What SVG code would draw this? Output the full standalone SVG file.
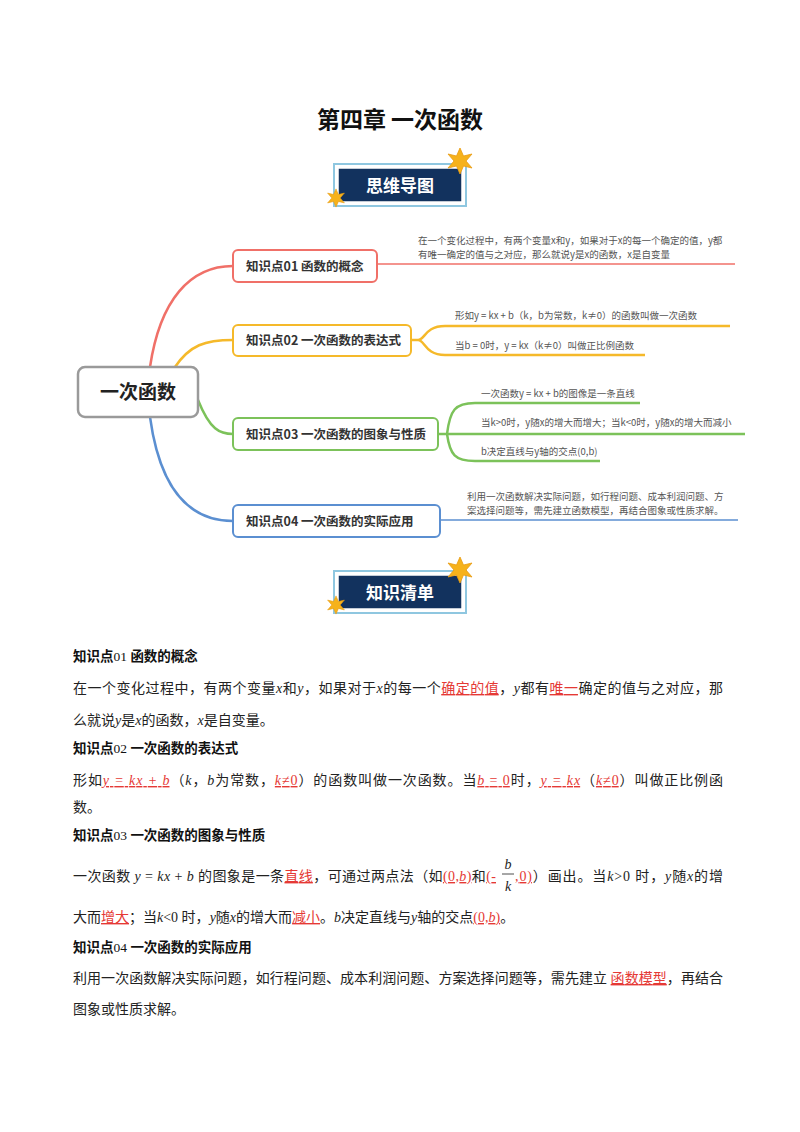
<svg xmlns="http://www.w3.org/2000/svg" width="800" height="1132" viewBox="0 0 800 1132">
<style>
.cjk{font-family:"Liberation Serif","Noto Sans CJK SC",serif}
.b{font-size:14px;fill:#222}
.h{font-size:13.5px;font-weight:bold;fill:#111}
.r{fill:#e53935;text-decoration:underline}
.i{font-style:italic}
.mm{font-family:"Noto Sans CJK SC",sans-serif}
.nt{font-size:12.5px;font-weight:bold;fill:#333}
.sm{font-size:9.5px;fill:#555}
.box{fill:#fff;stroke-width:2}
.br{fill:none;stroke-width:2.5}
.ban{font-family:"Noto Sans CJK SC",sans-serif;font-size:17px;font-weight:bold;fill:#fff}
</style>
<defs>
<g id="star"><polygon points="0,-13 3.5,-5 12,-7 6,0 12,7 3.5,5 0,13 -3.5,5 -12,7 -6,0 -12,-7 -3.5,-5" fill="#f6b21b" stroke="#e89a10" stroke-width="0.8"/></g>
</defs>
<rect width="800" height="1132" fill="#fff"/>
<text x="400" y="128" text-anchor="middle" font-family="Noto Sans CJK SC,sans-serif" font-size="23" font-weight="bold" fill="#111">第四章  一次函数</text>

<g id="banner1">
<rect x="334" y="164" width="132" height="42" fill="none" stroke="#8fc7e0" stroke-width="2"/>
<rect x="338" y="168" width="124" height="34" fill="#12325e" stroke="#fff" stroke-width="1.5"/>
<text x="400" y="192" text-anchor="middle" class="ban">思维导图</text>
<use href="#star" x="460" y="161"/>
<use href="#star" x="336" y="198" transform="translate(336 198) scale(0.7) translate(-336 -198)"/>
</g>

<g id="connectors">
<path class="br" stroke="#f07068" d="M150,367 C160,300 190,266 233,266"/>
<path class="br" stroke="#f5b92a" d="M175,367 C190,345 205,340 233,340"/>
<path class="br" stroke="#7cc25a" d="M198,400 C210,430 220,434 233,434"/>
<path class="br" stroke="#5b8fd1" d="M150,417 C160,490 190,521 233,521"/>
<line x1="377" y1="264" x2="735" y2="264" stroke="#f07068" stroke-width="1.5"/>
<path class="br" stroke="#f5b92a" stroke-width="2" d="M411,340 L418,340 C425,340 425,326 445,326 L730,326 M418,340 C425,340 425,355 445,355 L645,355"/>
<path class="br" stroke="#7cc25a" stroke-width="2" d="M438,434 L447,434 C450,410 455,403 475,403 L640,403 M447,434 L745,434 M447,434 C450,455 455,461 475,461 L600,461"/>
<line x1="440" y1="520" x2="738" y2="520" stroke="#5b8fd1" stroke-width="1.5"/>
</g>

<g id="center">
<rect x="78" y="367" width="120" height="50" rx="7" fill="#fff" stroke="#9a9a9a" stroke-width="2.5"/>
<text x="138" y="399" text-anchor="middle" class="mm" font-size="19" font-weight="bold" fill="#222">一次函数</text>
</g>
<g id="n1">
<rect class="box" x="233" y="250" width="144" height="32" rx="5" stroke="#f07068"/>
<text x="246" y="271" class="mm nt">知识点01 函数的概念</text>
<text x="418" y="244" class="mm sm">在一个变化过程中，有两个变量x和y，如果对于x的每一个确定的值，y都</text>
<text x="418" y="258" class="mm sm">有唯一确定的值与之对应，那么就说y是x的函数，x是自变量</text>
</g>
<g id="n2">
<rect class="box" x="233" y="325" width="178" height="31" rx="5" stroke="#f5b92a"/>
<text x="246" y="345" class="mm nt">知识点02 一次函数的表达式</text>
<text x="455" y="319" class="mm sm">形如y = kx + b（k，b为常数，k≠0）的函数叫做一次函数</text>
<text x="455" y="349" class="mm sm">当b = 0时，y = kx（k≠0）叫做正比例函数</text>
</g>
<g id="n3">
<rect class="box" x="233" y="418" width="205" height="32" rx="5" stroke="#7cc25a"/>
<text x="246" y="439" class="mm nt">知识点03 一次函数的图象与性质</text>
<text x="481" y="397" class="mm sm">一次函数y = kx + b的图像是一条直线</text>
<text x="481" y="426" class="mm sm">当k&gt;0时，y随x的增大而增大；当k&lt;0时，y随x的增大而减小</text>
<text x="481" y="455" class="mm sm">b决定直线与y轴的交点(0,b)</text>
</g>
<g id="n4">
<rect class="box" x="233" y="505" width="207" height="32" rx="5" stroke="#5b8fd1"/>
<text x="246" y="526" class="mm nt">知识点04 一次函数的实际应用</text>
<text x="467" y="500" class="mm sm">利用一次函数解决实际问题，如行程问题、成本利润问题、方</text>
<text x="467" y="514" class="mm sm">案选择问题等，需先建立函数模型，再结合图象或性质求解。</text>
</g>

<g id="banner2">
<rect x="334" y="571" width="132" height="42" fill="none" stroke="#8fc7e0" stroke-width="2"/>
<rect x="338" y="575" width="124" height="34" fill="#12325e" stroke="#fff" stroke-width="1.5"/>
<text x="400" y="599" text-anchor="middle" class="ban">知识清单</text>
<use href="#star" x="460" y="570"/>
<use href="#star" x="336" y="605" transform="translate(336 605) scale(0.7) translate(-336 -605)"/>
</g>

<g id="body" class="cjk">
<text x="73" y="661" class="h">知识点<tspan font-weight="normal">01 </tspan> 函数的概念</text>
<text x="73" y="693" class="b" textLength="650" lengthAdjust="spacing">在一个变化过程中，有两个变量<tspan class="i">x</tspan>和<tspan class="i">y</tspan>，如果对于<tspan class="i">x</tspan>的每一个<tspan class="r">确定的值</tspan>，<tspan class="i">y</tspan>都有<tspan class="r">唯一</tspan>确定的值与之对应，那</text>
<text x="73" y="725" class="b">么就说<tspan class="i">y</tspan>是<tspan class="i">x</tspan>的函数，<tspan class="i">x</tspan>是自变量。</text>
<text x="73" y="753" class="h">知识点<tspan font-weight="normal">02 </tspan> 一次函数的表达式</text>
<text x="73" y="785" class="b" textLength="650" lengthAdjust="spacing">形如<tspan class="r i">y = kx + b</tspan>（<tspan class="i">k</tspan>，<tspan class="i">b</tspan>为常数，<tspan class="r"><tspan class="i">k</tspan>≠0</tspan>）的函数叫做一次函数。当<tspan class="r"><tspan class="i">b</tspan> = 0</tspan>时，<tspan class="r i">y = kx</tspan>（<tspan class="r"><tspan class="i">k</tspan>≠0</tspan>）叫做正比例函</text>
<text x="73" y="812" class="b">数。</text>
<text x="73" y="840" class="h">知识点<tspan font-weight="normal">03 </tspan> 一次函数的图象与性质</text>
<text x="73" y="881" class="b" textLength="423" lengthAdjust="spacing">一次函数 <tspan class="i">y</tspan> = <tspan class="i">kx</tspan> + <tspan class="i">b</tspan> 的图象是一条<tspan class="r">直线</tspan>，可通过两点法（如<tspan class="r">(0,<tspan class="i">b</tspan>)</tspan>和<tspan class="r">(-</tspan></text>
<text x="508" y="869" class="b i" text-anchor="middle">b</text>
<line x1="502" y1="874" x2="514" y2="874" stroke="#222" stroke-width="0.8"/>
<text x="508" y="891" class="b i" text-anchor="middle">k</text>
<text x="515" y="881" class="b" textLength="208" lengthAdjust="spacing"><tspan class="r">,0)</tspan>）画出。当<tspan class="i">k</tspan>&gt;0 时，<tspan class="i">y</tspan>随<tspan class="i">x</tspan>的增</text>
<text x="73" y="922" class="b">大而<tspan class="r">增大</tspan>；当<tspan class="i">k</tspan>&lt;0 时，<tspan class="i">y</tspan>随<tspan class="i">x</tspan>的增大而<tspan class="r">减小</tspan>。<tspan class="i">b</tspan>决定直线与<tspan class="i">y</tspan>轴的交点<tspan class="r">(0,<tspan class="i">b</tspan>)</tspan>。</text>
<text x="73" y="952" class="h">知识点<tspan font-weight="normal">04 </tspan> 一次函数的实际应用</text>
<text x="73" y="983" class="b" textLength="650" lengthAdjust="spacing">利用一次函数解决实际问题，如行程问题、成本利润问题、方案选择问题等，需先建立 <tspan class="r">函数模型</tspan>，再结合</text>
<text x="73" y="1014" class="b">图象或性质求解。</text>
</g>
</svg>
